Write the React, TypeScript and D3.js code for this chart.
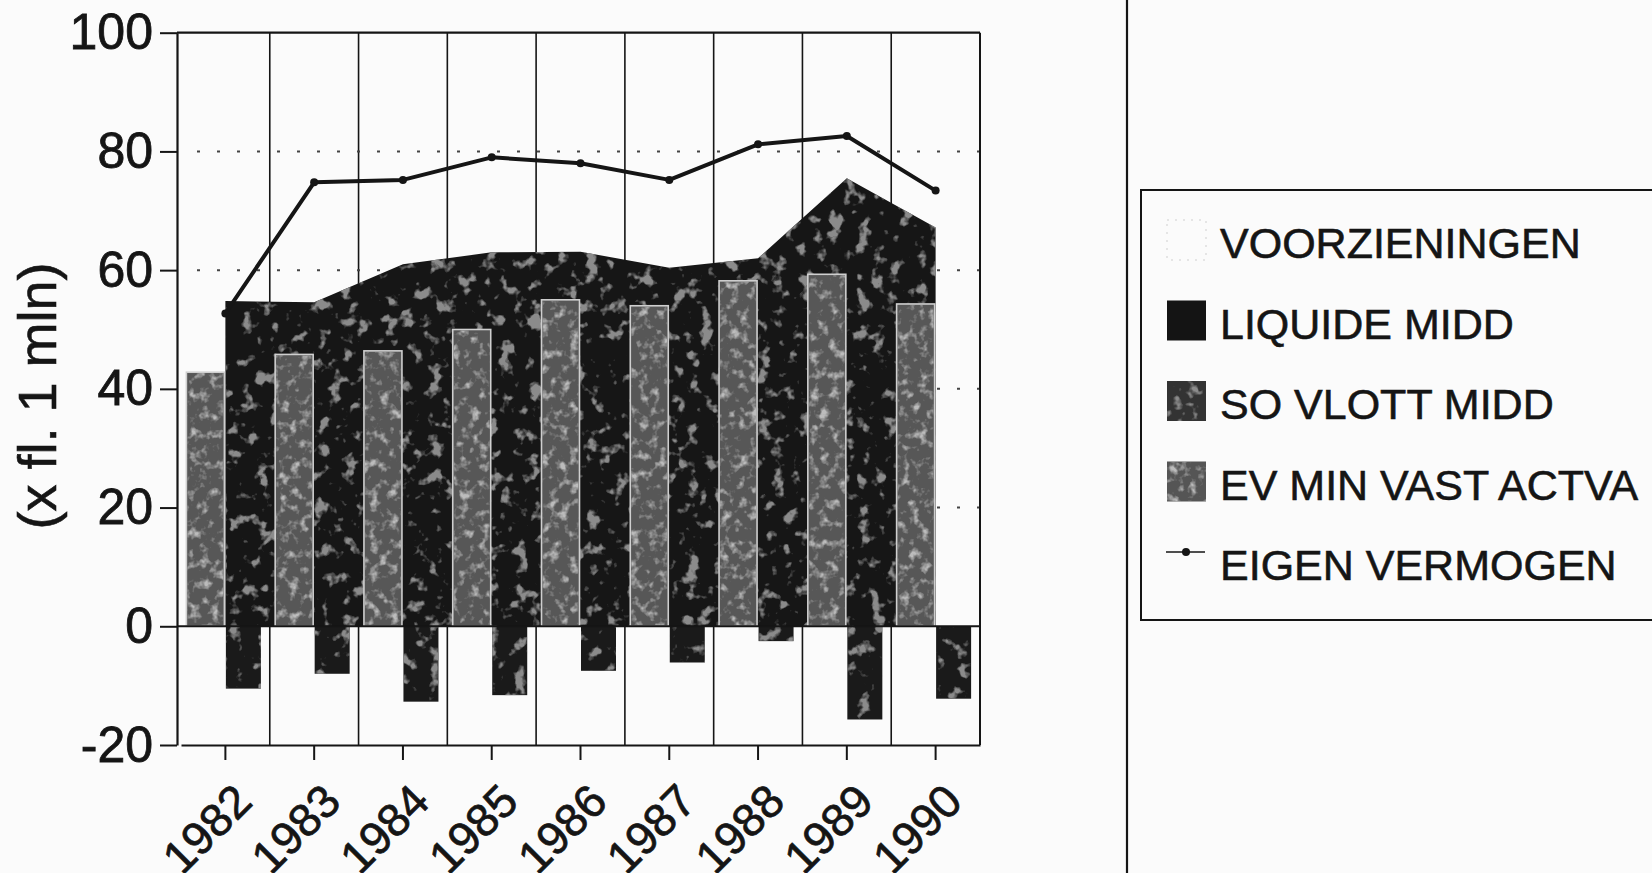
import { useEffect, useRef } from 'react';
import * as d3 from 'd3';

// categories
const years = ['1982', '1983', '1984', '1985', '1986', '1987', '1988', '1989', '1990'];

// grey bars, left of each tick
const evMinVastActva = [42.8, 45.8, 46.4, 50.0, 55.0, 54.0, 58.2, 59.3, 54.3];
// dark area
const soVlottMidd = [54.8, 54.6, 61.0, 63.0, 63.1, 60.4, 62.0, 75.5, 67.2];
// bars below zero, right of each tick
const liquideMidd = [-10.5, -8.0, -12.7, -11.6, -7.5, -6.1, -2.5, -15.7, -12.2];
// line
const eigenVermogen = [52.7, 74.8, 75.2, 79.0, 78.0, 75.2, 81.2, 82.6, 73.4];

const yTicks = [-20, 0, 20, 40, 60, 80, 100];
const dottedGrid = [20, 40, 60, 80];

const legendLabels = ['VOORZIENINGEN', 'LIQUIDE MIDD', 'SO VLOTT MIDD', 'EV MIN VAST ACTVA', 'EIGEN VERMOGEN'];

export default function App() {
  const ref = useRef<SVGSVGElement | null>(null);

  useEffect(() => {
    if (!ref.current) return;
    const svg = d3.select(ref.current);
    svg.selectAll('*').remove();

    const W = 1652;
    const H = 873;
    const font = '"Liberation Sans", Arial, Helvetica, sans-serif';
    const ink = '#151515';

    svg.append('rect').attr('width', W).attr('height', H).attr('fill', '#fbfbfb');

    // scanned, blotchy fills
    const defs = svg.append('defs');
    const addMottle = (id: string, grey: number, freq: number, seed: number, k: number, b: number) => {
      const f = defs.append('filter').attr('id', id)
        .attr('x', 0).attr('y', 0).attr('width', 1).attr('height', 1);
      f.append('feTurbulence').attr('type', 'fractalNoise')
        .attr('baseFrequency', freq).attr('numOctaves', 3).attr('seed', seed).attr('result', 'n');
      f.append('feColorMatrix').attr('in', 'n').attr('type', 'matrix')
        .attr('values', `0 0 0 0 ${grey} 0 0 0 0 ${grey} 0 0 0 0 ${grey} ${k} 0 0 0 ${b}`)
        .attr('result', 's');
      f.append('feComposite').attr('in', 's').attr('in2', 'SourceGraphic').attr('operator', 'in');
    };
    addMottle('mottleDark', 0.26, 0.07, 4, 7, -4.0);
    addMottle('mottleGrey', 0.5, 0.1, 9, 3.5, -1.8);

    const left = 177;
    const right = 980;
    const x = d3.scaleBand().domain(years).range([181, 980]);
    const y = d3.scaleLinear().domain([-20, 100]).range([745, 32.7]);
    const cx = (d: string) => (x(d) as number) + x.bandwidth() / 2;

    // vertical grid at category boundaries
    svg.append('g').selectAll('line')
      .data(years.slice(1))
      .enter().append('line')
      .attr('x1', d => x(d) as number).attr('x2', d => x(d) as number)
      .attr('y1', y(100)).attr('y2', y(-20))
      .attr('stroke', ink).attr('stroke-width', 1.6);

    // dotted horizontal grid
    svg.append('g').selectAll('line')
      .data(dottedGrid)
      .enter().append('line')
      .attr('x1', left + 20).attr('x2', right)
      .attr('y1', d => y(d)).attr('y2', d => y(d))
      .attr('stroke', '#444').attr('stroke-width', 2)
      .attr('stroke-dasharray', '3 17');

    // area
    const areaData = years.map((yr, i) => ({ yr, v: soVlottMidd[i] }));
    const area = d3.area<{ yr: string; v: number }>()
      .x(d => cx(d.yr))
      .y0(y(0))
      .y1(d => y(d.v));
    svg.append('path').datum(areaData).attr('d', area).attr('fill', '#161616');
    svg.append('path').datum(areaData).attr('d', area).attr('fill', '#000').attr('filter', 'url(#mottleDark)');

    // grey bars
    const bars = years.map((yr, i) => ({ yr, v: evMinVastActva[i] }));
    const barG = svg.append('g');
    barG.selectAll('rect.base')
      .data(bars)
      .enter().append('rect')
      .attr('class', 'base')
      .attr('x', d => cx(d.yr) - 39)
      .attr('width', 38)
      .attr('y', d => y(d.v))
      .attr('height', d => y(0) - y(d.v))
      .attr('fill', '#575757')
      .attr('stroke', '#cfcfcf')
      .attr('stroke-width', 1.6);
    barG.selectAll('rect.spots')
      .data(bars)
      .enter().append('rect')
      .attr('class', 'spots')
      .attr('x', d => cx(d.yr) - 38)
      .attr('width', 36)
      .attr('y', d => y(d.v) + 1)
      .attr('height', d => y(0) - y(d.v) - 2)
      .attr('fill', '#000')
      .attr('filter', 'url(#mottleGrey)');

    // negative bars
    const neg = years.map((yr, i) => ({ yr, v: liquideMidd[i] }));
    const negG = svg.append('g');
    negG.selectAll('rect.base')
      .data(neg)
      .enter().append('rect')
      .attr('class', 'base')
      .attr('x', d => cx(d.yr) + 0.5)
      .attr('width', 35)
      .attr('y', y(0))
      .attr('height', d => y(d.v) - y(0))
      .attr('fill', '#1a1a1a');
    negG.selectAll('rect.spots')
      .data(neg)
      .enter().append('rect')
      .attr('class', 'spots')
      .attr('x', d => cx(d.yr) + 0.5)
      .attr('width', 35)
      .attr('y', y(0))
      .attr('height', d => y(d.v) - y(0))
      .attr('fill', '#000')
      .attr('filter', 'url(#mottleDark)');

    // zero line and frame
    svg.append('line')
      .attr('x1', left).attr('x2', right).attr('y1', y(0)).attr('y2', y(0))
      .attr('stroke', ink).attr('stroke-width', 2);
    svg.append('line')
      .attr('x1', left).attr('x2', right).attr('y1', y(100)).attr('y2', y(100))
      .attr('stroke', ink).attr('stroke-width', 2.2);
    svg.append('line')
      .attr('x1', right).attr('x2', right).attr('y1', y(100)).attr('y2', y(-20))
      .attr('stroke', ink).attr('stroke-width', 2);

    // y axis
    const yAxis = svg.append('g')
      .attr('transform', `translate(${left},0)`)
      .call(d3.axisLeft(y).tickValues(yTicks).tickSize(17).tickSizeOuter(0).tickPadding(7)
        .tickFormat(d => String(d)));
    yAxis.select('.domain').attr('stroke', ink).attr('stroke-width', 2.2);
    yAxis.selectAll('.tick line').attr('stroke', ink).attr('stroke-width', 2);
    yAxis.selectAll('.tick text')
      .attr('fill', ink)
      .attr('stroke', ink)
      .attr('stroke-width', 0.8)
      .style('font-family', font)
      .style('font-size', '50px');

    // x axis
    const xAxis = svg.append('g')
      .attr('transform', `translate(0,${y(-20)})`)
      .call(d3.axisBottom(x).tickSize(15).tickSizeOuter(0).tickFormat(() => ''));
    xAxis.select('.domain').attr('stroke', ink).attr('stroke-width', 2.2);
    xAxis.selectAll('.tick line').attr('stroke', ink).attr('stroke-width', 2);

    svg.append('g').selectAll('text')
      .data(years)
      .enter().append('text')
      .attr('transform', d => `translate(${cx(d) + 29},804) rotate(-45)`)
      .attr('text-anchor', 'end')
      .attr('fill', ink)
      .attr('stroke', ink)
      .attr('stroke-width', 0.7)
      .style('font-family', font)
      .style('font-size', '46px')
      .text(d => d);

    // y axis title
    svg.append('text')
      .attr('transform', 'translate(56,396) rotate(-90)')
      .attr('text-anchor', 'middle')
      .attr('fill', ink)
      .attr('stroke', ink)
      .attr('stroke-width', 0.6)
      .style('font-family', font)
      .style('font-size', '54px')
      .text('(x fl. 1 mln)');

    // line
    const lineData = years.map((yr, i) => ({ yr, v: eigenVermogen[i] }));
    const line = d3.line<{ yr: string; v: number }>()
      .x(d => cx(d.yr))
      .y(d => y(d.v));
    svg.append('path').datum(lineData)
      .attr('d', line)
      .attr('fill', 'none')
      .attr('stroke', ink)
      .attr('stroke-width', 4)
      .attr('stroke-linejoin', 'round');
    svg.append('g').selectAll('circle')
      .data(lineData)
      .enter().append('circle')
      .attr('cx', d => cx(d.yr))
      .attr('cy', d => y(d.v))
      .attr('r', 4)
      .attr('fill', ink);

    // divider and legend box
    svg.append('line')
      .attr('x1', 1127).attr('x2', 1127).attr('y1', 0).attr('y2', H)
      .attr('stroke', ink).attr('stroke-width', 2.2);
    svg.append('rect')
      .attr('x', 1141).attr('y', 190).attr('width', 560).attr('height', 430)
      .attr('fill', 'none').attr('stroke', ink).attr('stroke-width', 2);

    const rowY = d3.scalePoint().domain(legendLabels).range([242, 564]);
    const lg = svg.append('g').selectAll('g')
      .data(legendLabels)
      .enter().append('g')
      .attr('transform', d => `translate(0,${rowY(d)})`);

    lg.append('text')
      .attr('x', 1220)
      .attr('y', 16)
      .attr('fill', ink)
      .attr('stroke', ink)
      .attr('stroke-width', 0.6)
      .style('font-family', font)
      .style('font-size', '43px')
      .text(d => d);

    const swatchFill: Record<string, string> = {
      'VOORZIENINGEN': '#fbfbfb',
      'LIQUIDE MIDD': '#141414',
      'SO VLOTT MIDD': '#333333',
      'EV MIN VAST ACTVA': '#555555',
    };
    lg.filter(d => d !== 'EIGEN VERMOGEN')
      .append('rect')
      .attr('x', 1167).attr('y', -22).attr('width', 39).attr('height', 40)
      .attr('fill', d => swatchFill[d])
      .attr('stroke', d => (d === 'VOORZIENINGEN' ? '#cfcfcf' : 'none'))
      .attr('stroke-dasharray', '2 6');
    lg.filter(d => d === 'SO VLOTT MIDD' || d === 'EV MIN VAST ACTVA')
      .append('rect')
      .attr('x', 1167).attr('y', -22).attr('width', 39).attr('height', 40)
      .attr('fill', '#000')
      .attr('filter', d => (d === 'SO VLOTT MIDD' ? 'url(#mottleDark)' : 'url(#mottleGrey)'));

    const lineKey = lg.filter(d => d === 'EIGEN VERMOGEN');
    lineKey.append('line')
      .attr('x1', 1166).attr('x2', 1205).attr('y1', -12).attr('y2', -12)
      .attr('stroke', ink).attr('stroke-width', 1.6);
    lineKey.append('circle')
      .attr('cx', 1186).attr('cy', -12).attr('r', 4).attr('fill', ink);
  }, []);

  return (
    <div style={{ position: 'fixed', left: 0, top: 0 }}>
      <svg ref={ref} width={1652} height={873} style={{ display: 'block' }} />
    </div>
  );
}
